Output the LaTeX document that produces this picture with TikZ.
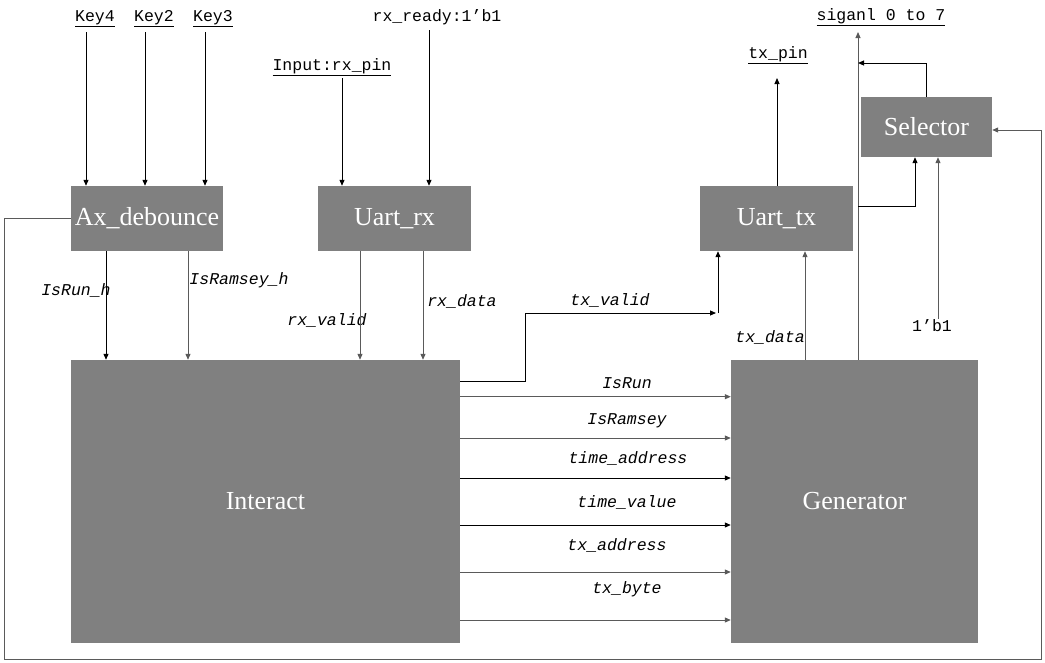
\documentclass[tikz,border=0pt]{standalone}
\usepackage{fontspec}
\setmainfont{Liberation Serif}
\newfontfamily\lbl{Liberation Mono}
\usetikzlibrary{arrows.meta,calc}
\definecolor{boxgray}{RGB}{128,128,128}
\definecolor{linegray}{RGB}{90,90,90}
\begin{document}
\begin{tikzpicture}[x=1pt,y=-1pt,
  blk/.style={fill=boxgray,text=white,inner sep=0pt,font=\fontsize{26}{26}\selectfont},
  lab/.style={inner sep=1pt,font=\lbl\fontsize{16.5}{16.5}\selectfont},
  ilab/.style={inner sep=1pt,font=\lbl\itshape\fontsize{16.5}{16.5}\selectfont},
  arr/.style={-{Triangle[length=6pt,width=5pt]},line width=1pt,draw=black},
  garr/.style={arr,draw=linegray},
  gl/.style={draw=linegray,line width=1pt}]
\useasboundingbox (0,0) rectangle (1045,662);
% blocks
\node[blk,minimum width=152pt,minimum height=65pt] (ax) at (147,218.5) {Ax\_debounce};
\node[blk,minimum width=153pt,minimum height=65pt] (rx) at (394.5,218.5) {Uart\_rx};
\node[blk,minimum width=153pt,minimum height=65pt] (tx) at (776.5,218.5) {Uart\_tx};
\node[blk,minimum width=131pt,minimum height=60pt] (sel) at (926.5,127) {Selector};
\node[blk,minimum width=389pt,minimum height=283pt] (it) at (265.5,501.5) {Interact};
\node[blk,minimum width=247pt,minimum height=283pt] (gen) at (854.5,501.5) {Generator};
% top labels
\node[lab] (k4) at (95,19) {\underline{Key4}};
\node[lab] (k2) at (154,19) {\underline{Key2}};
\node[lab] (k3) at (213,19) {\underline{Key3}};
\node[lab] (rxpin) at (332,67) {\underline{Input:rx\_pin}};
\node[lab] (rdy) at (437,17) {rx\_ready:1’b1};
\node[lab] (txpin) at (778,55) {\underline{tx\_pin}};
\node[lab] (sig) at (881,17) {\underline{siganl 0 to 7}};
\node[lab] (one) at (932,326) {1’b1};
% signal labels
\node[ilab] at (76,290) {IsRun\_h};
\node[ilab] at (239,280) {IsRamsey\_h};
\node[ilab] at (327,320) {rx\_valid};
\node[ilab] at (462,301) {rx\_data};
\node[ilab] at (610,300) {tx\_valid};
\node[ilab] at (770,337) {tx\_data};
\node[ilab] at (627,383) {IsRun};
\node[ilab] at (627,421) {IsRamsey};
\node[ilab] at (628,458) {time\_address};
\node[ilab] at (627,502) {time\_value};
\node[ilab] at (617,545) {tx\_address};
\node[ilab] at (627,589) {tx\_byte};
% inputs
\coordinate (k4s) at (86,32);
\coordinate (k2s) at (145,32);
\coordinate (k3s) at (205,32);
\coordinate (rps) at (342,78);
\coordinate (rds) at (429,30);
\draw[arr] (k4s) -- (k4s |- ax.north);
\draw[arr] (k2s) -- (k2s |- ax.north);
\draw[arr] (k3s) -- (k3s |- ax.north);
\draw[arr] (rps) -- (rps |- rx.north);
\draw[arr] (rds) -- (rds |- rx.north);
% debounce/rx to interact
\draw[arr] (106,0 |- ax.south) -- (106,0 |- it.north);
\draw[garr] (188,0 |- ax.south) -- (188,0 |- it.north);
\draw[garr] (360,0 |- rx.south) -- (360,0 |- it.north);
\draw[garr] (423,0 |- rx.south) -- (423,0 |- it.north);
% tx_valid
\coordinate (tvc) at (718,313);
\draw[arr] (it.east |- 0,381) -| (525,313) -- (716,313);
\draw[arr] (tvc) -- (tvc |- tx.south);
% buses
\draw[garr] (it.east |- 0,396.7) -- (gen.west |- 0,396.7);
\draw[garr] (it.east |- 0,438) -- (gen.west |- 0,438);
\draw[arr] (it.east |- 0,478) -- (gen.west |- 0,478);
\draw[arr] (it.east |- 0,525) -- (gen.west |- 0,525);
\draw[garr] (it.east |- 0,572) -- (gen.west |- 0,572);
\draw[garr] (it.east |- 0,620) -- (gen.west |- 0,620);
% generator outputs
\draw[garr] (805,0 |- gen.north) -- (805,0 |- tx.south);
\draw[arr] (777,0 |- tx.north) -- (777,78);
\coordinate (sigtop) at (858,32);
\draw[garr] (858,0 |- gen.north) -- (sigtop);
\draw[arr] (858,206) -- (915,206) -- (915,0 |- sel.south);
\draw[arr] (926,0 |- sel.north) -- (926,63) -- (858,63);
\draw[garr] (938,0 |- one.north) -- (938,0 |- sel.south);
% feedback
\draw[garr] (ax.west) -- (4,0 |- ax.west) -- (4,659) -- (1041,659) -- (1041,130) -- (sel.east |- 0,130);
\end{tikzpicture}
\end{document}
